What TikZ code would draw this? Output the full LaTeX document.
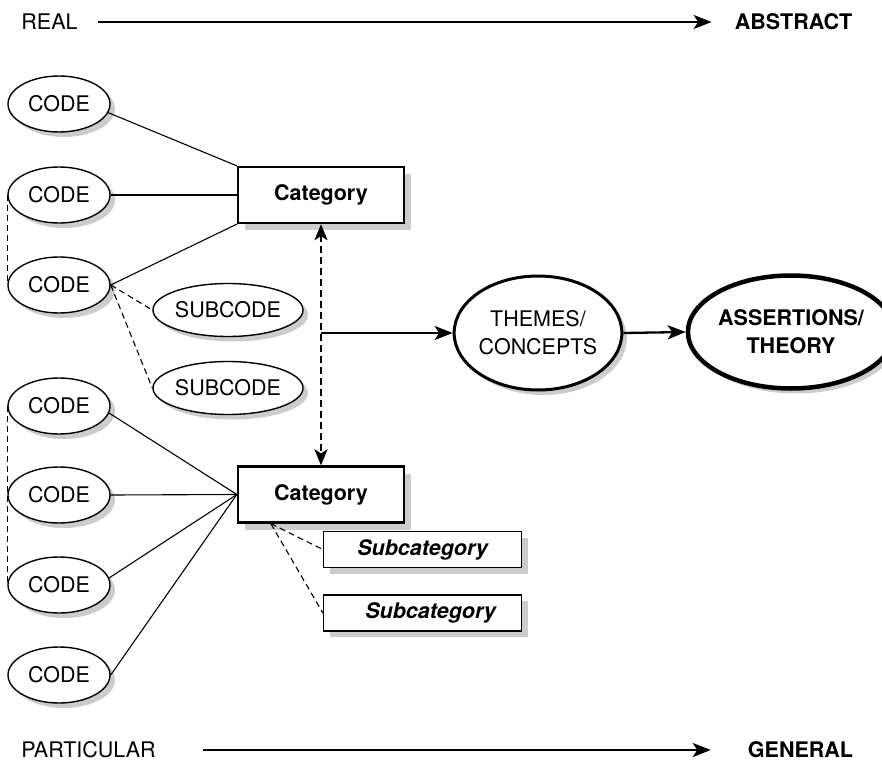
\documentclass[tikz,border=0pt]{standalone}
\usepackage{fontspec}
\setmainfont{TeX Gyre Heros}
\usetikzlibrary{shapes.geometric,arrows.meta,shadows}
\newcommand\fsz{\fontsize{21.5}{28}\selectfont}
\tikzset{
  codebox/.style={ellipse, draw, line width=1.4pt, minimum width=102pt, minimum height=56pt,
    inner sep=0pt, fill=white, font=\fsz,
    drop shadow={shadow xshift=5pt, shadow yshift=-5pt, fill=black!20, opacity=1}},
  subcodebox/.style={codebox, minimum width=127pt, minimum height=53pt},
  catbox/.style={rectangle, draw, line width=2.3pt, minimum width=166pt, minimum height=56pt,
    inner sep=0pt, fill=white, font=\fsz\bfseries,
    drop shadow={shadow xshift=7pt, shadow yshift=-7pt, fill=black!20, opacity=1}},
  subcatbox/.style={rectangle, draw, line width=1.3pt, minimum width=198pt, minimum height=36pt,
    inner sep=0pt, fill=white, font=\fsz\bfseries\itshape,
    drop shadow={shadow xshift=6pt, shadow yshift=-6pt, fill=black!20, opacity=1}},
  bigell/.style={ellipse, draw, inner sep=0pt, fill=white, align=center,
    drop shadow={shadow xshift=5pt, shadow yshift=-5pt, fill=black!20, opacity=1}},
  label/.style={inner sep=0pt, font=\fsz},
  thin/.style={line width=1.1pt},
  thindash/.style={line width=1.1pt, dash pattern=on 6pt off 4pt},
  mainarrow/.style={line width=2.3pt, -{Stealth[length=18pt,width=14pt,inset=4.5pt]}},
}
\begin{document}
\begin{tikzpicture}[x=1pt,y=-1pt]
\useasboundingbox (0,0) rectangle (882,767);

% axis labels
\node[label] (real) at (49.5,22) {REAL};
\node[label, font=\fsz\bfseries] (abstract) at (793.5,22) {ABSTRACT};
\node[label] (particular) at (88.5,750) {PARTICULAR};
\node[label, font=\fsz\bfseries] (general) at (800.5,750) {GENERAL};
\draw[mainarrow] ([xshift=20pt]real.east) -- ([xshift=-23pt]abstract.west);
\draw[mainarrow] ([xshift=47pt]particular.east) -- ([xshift=-37pt]general.west);

% codes
\node[codebox] (c1) at (59,104) {CODE};
\node[codebox] (c2) at (59,195) {CODE};
\node[codebox] (c3) at (59,285) {CODE};
\node[codebox] (c4) at (59,406) {CODE};
\node[codebox] (c5) at (59,495) {CODE};
\node[codebox] (c6) at (59,585) {CODE};
\node[codebox] (c7) at (59,675) {CODE};

\node[subcodebox] (s1) at (228,310) {SUBCODE};
\node[subcodebox] (s2) at (228,388) {SUBCODE};

% categories
\node[catbox] (cat1) at (321,195) {Category};
\node[catbox] (cat2) at (321,494.5) {Category};

\node[subcatbox] (sc1) at (422.5,549.5) {Subcategory};
\node[subcatbox] (sc2) at (422.5,613) {\hspace*{16pt}Subcategory};

% themes and theory
\node[bigell, line width=3pt, minimum width=167pt, minimum height=114pt, font=\fsz] (themes) at (538,333) {THEMES/\\CONCEPTS};
\node[bigell, line width=4.5pt, minimum width=177pt, minimum height=113pt, font=\fsz\bfseries] (theory) at (791,332) {ASSERTIONS/\\THEORY};

% connectors to upper category
\draw[thin] (c1.-10) -- (cat1.north west);
\draw[thin] (c2.east) -- (cat1.west);
\draw[thin] (c3.east) -- (cat1.south west);
\draw[thindash] (c3.east) -- (s1.west);
\draw[thindash] (c3.east) -- (s2.west);
\draw[thindash] (c2.west) -- (c3.west);

% connectors to lower category
\draw[thin] (c4.-8) -- (cat2.west);
\draw[thin] (c5.east) -- (cat2.west);
\draw[thin] (c6.8) -- (cat2.west);
\draw[thin] (c7.east) -- (cat2.west);
\draw[thindash] (c4.west) -- (c6.west);

\coordinate (d) at ([xshift=34pt]cat2.south west);
\draw[thindash] (d) -- (sc1.west);
\draw[thindash] (d) -- (sc2.west);

% vertical dashed double arrow
\draw[line width=2.6pt, dash pattern=on 7pt off 4pt,
  {Stealth[length=16pt,width=13pt,inset=4pt]}-{Stealth[length=16pt,width=13pt,inset=4pt]}]
  (cat1.south) -- (cat2.north);

\coordinate (j) at (321,333);
\draw[mainarrow] (j) -- (themes.west);
\draw[mainarrow] (themes.east) -- (theory.west);
\end{tikzpicture}
\end{document}
